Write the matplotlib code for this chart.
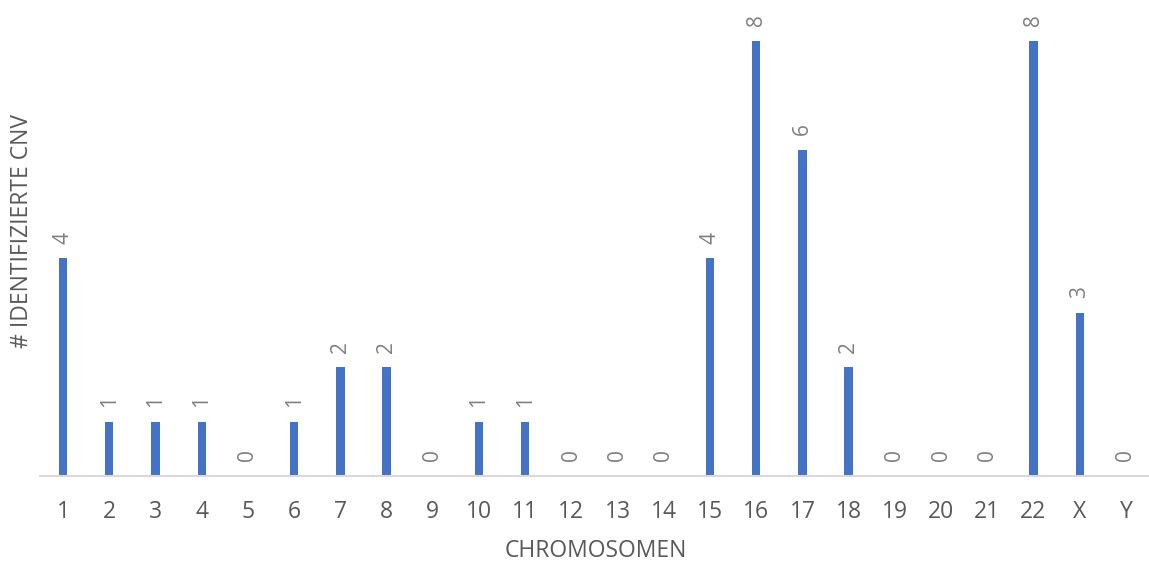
import matplotlib
matplotlib.use("Agg")
import matplotlib.pyplot as plt

chromosomes = ["1", "2", "3", "4", "5", "6", "7", "8", "9", "10", "11", "12",
               "13", "14", "15", "16", "17", "18", "19", "20", "21", "22", "X", "Y"]
cnv_counts = [4, 1, 1, 1, 0, 1, 2, 2, 0, 1, 1, 0, 0, 0, 4, 8, 6, 2, 0, 0, 0, 8, 3, 0]

plt.rcParams['font.family'] = ['Open Sans', 'DejaVu Sans']

fig = plt.figure(figsize=(11.49, 5.63), dpi=100)
ax = fig.add_axes([40 / 1149, 87 / 563, 1 - 40 / 1149, 1 - 87 / 563])

x = list(range(len(chromosomes)))
ax.bar(x, cnv_counts, width=0.18, color="#4472C4", zorder=2)

for xi, v in zip(x, cnv_counts):
    ax.annotate(str(v), xy=(xi, v), xytext=(0, 10.5), textcoords="offset points",
                rotation=90, ha="center", va="bottom", fontsize=15,
                color="#7F7F7F", clip_on=False)

ax.set_xlim(-0.5, 23.5)
ax.set_ylim(0, 8.75)
ax.set_xticks(x)
ax.set_xticklabels(chromosomes, fontsize=16.5, color="#595959")
ax.tick_params(axis="x", length=0, pad=17)
ax.set_yticks([])

for side in ["top", "right", "left"]:
    ax.spines[side].set_visible(False)
ax.spines["bottom"].set_color("#D9D9D9")
ax.spines["bottom"].set_linewidth(1.5)

fig.text(596 / 1149, 1 - 551 / 563, "CHROMOSOMEN", ha="center", va="center",
         fontsize=16.5, color="#595959")
fig.text(22 / 1149, 1 - 231 / 563, "# IDENTIFIZIERTE CNV", rotation=90,
         ha="center", va="center", fontsize=16.5, color="#595959")

fig.savefig("out.png", dpi=100)
